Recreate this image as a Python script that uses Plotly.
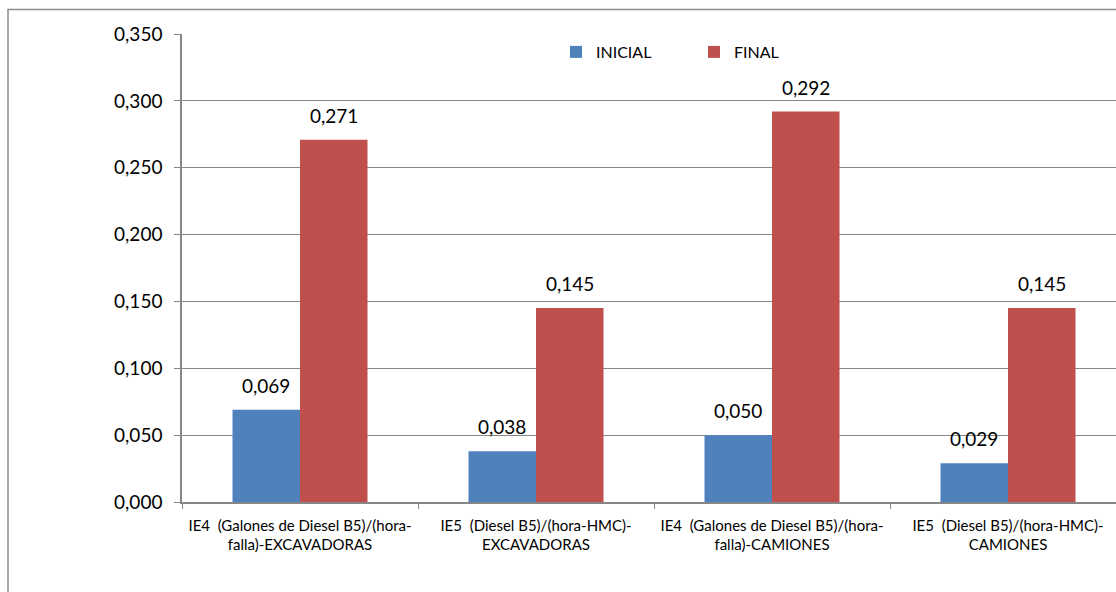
import plotly.graph_objects as go

categories = [
    "IE4 \u00a0(Galones de Diesel B5)/(hora-<br>falla)-EXCAVADORAS",
    "IE5 \u00a0(Diesel B5)/(hora-HMC)-<br>EXCAVADORAS",
    "IE4 \u00a0(Galones de Diesel B5)/(hora-<br>falla)-CAMIONES",
    "IE5 \u00a0(Diesel B5)/(hora-HMC)-<br>CAMIONES",
]
series_names = ["INICIAL", "FINAL"]
inicial = [0.069, 0.038, 0.050, 0.029]
final = [0.271, 0.145, 0.292, 0.145]
colors = ["#4F81BD", "#C0504D"]
y_tickvals = [0.0, 0.05, 0.10, 0.15, 0.20, 0.25, 0.30, 0.35]

FONT = "Lato, Carlito, Calibri, sans-serif"
W, H = 1116, 592
ML, MR, MT, MB = 182, 0, 34, 90
plot_w = W - ML - MR
cat_px = 236.0
x_span = plot_w / cat_px
bargap = 0.428

fig = go.Figure()
for name, vals, col in zip(series_names, [inicial, final], colors):
    fig.add_trace(go.Bar(
        x=categories, y=vals, name=name,
        marker=dict(color=col, line=dict(width=0)),
    ))

# data labels above bars
bar_px = cat_px * (1 - bargap) / 2
annotations = []
for i, vals in enumerate([inicial, final]):
    shift = (i - 0.5) * bar_px
    for c, v in zip(categories, vals):
        annotations.append(dict(
            x=c, y=v, xref="x", yref="y", text=f"{v:.3f}".replace(".", ","),
            showarrow=False, xshift=shift, yshift=11, yanchor="bottom",
            font=dict(family=FONT, size=19, color="#000000"),
        ))

# outer chart border
shapes = [dict(
    type="rect", xref="paper", yref="paper",
    x0=(8 - ML) / plot_w, x1=(W + 10 - ML) / plot_w,
    y0=-(H + 10 - (H - MB)) / (H - MT - MB), y1=((H - MB) - 9.5) / (H - MT - MB),
    line=dict(color="#8C8C8C", width=1.5), fillcolor="rgba(0,0,0,0)", layer="below",
)]

fig.update_layout(
    width=W, height=H,
    margin=dict(l=ML, r=MR, t=MT, b=MB, pad=0, autoexpand=False),
    paper_bgcolor="white", plot_bgcolor="white",
    barmode="group", bargap=bargap, bargroupgap=0,
    separators=",.",
    font=dict(family=FONT, color="#000000"),
    annotations=annotations, shapes=shapes,
    legend=dict(
        orientation="h", x=(556 - ML) / plot_w, xanchor="left",
        y=(H - MB - 52) / (H - MT - MB), yanchor="middle",
        bgcolor="rgba(0,0,0,0)", font=dict(family=FONT, size=16, color="#000000"),
        entrywidth=93, entrywidthmode="pixels", traceorder="normal",
    ),
    showlegend=True,
)
fig.update_xaxes(
    range=[-0.5, -0.5 + x_span], type="category",
    showline=True, linecolor="#868686", linewidth=1.5,
    ticks="outside", tickson="boundaries", ticklen=5, tickcolor="#868686",
    tickfont=dict(family=FONT, size=15, color="#000000"),
    tickangle=0, automargin=False, ticklabelstandoff=9,
    showgrid=False, zeroline=False,
)
fig.update_yaxes(
    range=[0, 0.35], tickvals=y_tickvals, tickformat=".3f",
    showline=True, linecolor="#868686", linewidth=1.5,
    ticks="outside", ticklen=6, tickcolor="#868686",
    showgrid=True, gridcolor="#868686", gridwidth=1,
    zeroline=False, ticklabelstandoff=8, automargin=False,
    tickfont=dict(family=FONT, size=19, color="#000000"),
)

fig.write_html("out.html")
